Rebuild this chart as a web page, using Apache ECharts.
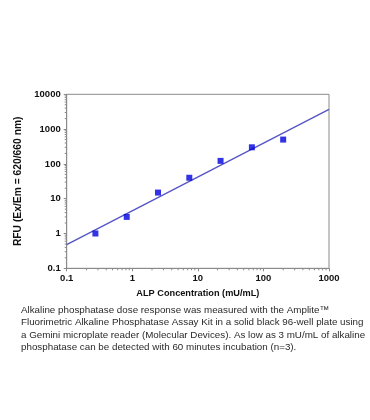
<!DOCTYPE html>
<html>
<head>
<meta charset="utf-8">
<script src="https://cdn.jsdelivr.net/npm/echarts@6/dist/echarts.min.js"></script>
<style>html,body{margin:0;padding:0;background:#fff}#c{width:370px;height:420px}</style>
</head>
<body>
<div id="c"></div>
<script>
var concentrations = [0.274, 0.823, 2.47, 7.41, 22.2, 66.7, 200];
var rfu = [1.0, 3.0, 15, 40, 122, 300, 500];
var fitX = [0.1, 1000];
var fitY = [0.48, 3700];
var xTickLabels = ['0.1', '1', '10', '100', '1000'];
var yTickLabels = ['0.1', '1', '10', '100', '1000', '10000'];
var xDecades = [0.1, 1, 10, 100];
var yDecades = [0.1, 1, 10, 100, 1000];
var captionLines = [
  'Alkaline phosphatase dose response was measured with the Amplite\u2122',
  'Fluorimetric Alkaline Phosphatase Assay Kit in a solid black 96-well plate using',
  'a Gemini microplate reader (Molecular Devices). As low as 3 mU/mL of alkaline',
  'phosphatase can be detected with 60 minutes incubation (n=3).'
];

var minorX = [], minorY = [];
xDecades.forEach(function (d) { for (var k = 2; k <= 9; k++) minorX.push(d * k); });
yDecades.forEach(function (d) { for (var k = 2; k <= 9; k++) minorY.push(d * k); });

var chart = echarts.init(document.getElementById('c'));
var axisColor = '#8a8a8a';
var ff = '"Liberation Sans", Arial, sans-serif';

var graphics = captionLines.map(function (t, i) {
  return {
    type: 'text', left: 21, top: 305 + i * 12.4,
    style: { text: t, fill: '#2a2a2a', font: '9.8px ' + ff }
  };
});

chart.setOption({
  animation: false,
  backgroundColor: '#fff',
  grid: { left: 66.7, right: 41, top: 94.3, bottom: 151.7, show: true, borderColor: axisColor, borderWidth: 1 },
  xAxis: {
    type: 'log', logBase: 10, min: 0.1, max: 1000,
    name: 'ALP Concentration (mU/mL)', nameLocation: 'middle', nameGap: 21,
    nameTextStyle: { color: '#111', fontFamily: ff, fontWeight: 'bold', fontSize: 9.2 },
    axisLine: { show: true, lineStyle: { color: axisColor } },
    axisTick: { show: true, length: 3, lineStyle: { color: axisColor } },
    axisLabel: { margin: 5, fontFamily: ff, fontWeight: 'bold', fontSize: 9.5, color: '#111',
      formatter: function (v) { var i = Math.round(Math.log10(v) + 1); return xTickLabels[i] || ''; } },
    splitLine: { show: false }
  },
  yAxis: {
    type: 'log', logBase: 10, min: 0.1, max: 10000,
    name: 'RFU (Ex/Em = 620/660 nm)', nameLocation: 'middle', nameGap: 39, nameRotate: 90,
    nameTextStyle: { color: '#111', fontFamily: ff, fontWeight: 'bold', fontSize: 10.3 },
    axisLine: { show: true, lineStyle: { color: axisColor } },
    axisTick: { show: true, length: 3, lineStyle: { color: axisColor } },
    axisLabel: { margin: 6, fontFamily: ff, fontWeight: 'bold', fontSize: 9.5, color: '#111',
      formatter: function (v) { var i = Math.round(Math.log10(v) + 1); return yTickLabels[i] || ''; } },
    splitLine: { show: false }
  },
  graphic: graphics,
  series: [
    {
      type: 'line', data: fitX.map(function (x, i) { return [x, fitY[i]]; }),
      showSymbol: false, symbol: 'none', lineStyle: { color: '#5454c4', width: 1.3 }, z: 2
    },
    {
      type: 'scatter', data: concentrations.map(function (x, i) { return [x, rfu[i]]; }),
      symbol: 'rect', symbolSize: 6, itemStyle: { color: '#0000e0' }, z: 3
    },
    {
      type: 'custom', silent: true, z: 1,
      data: minorX.map(function (v) { return [v, 0.1]; }),
      renderItem: function (params, api) {
        var p = api.coord([api.value(0), api.value(1)]);
        return { type: 'line', shape: { x1: p[0], y1: p[1], x2: p[0], y2: p[1] + 2 }, style: { stroke: axisColor, lineWidth: 1 } };
      }
    },
    {
      type: 'custom', silent: true, z: 1,
      data: minorY.map(function (v) { return [0.1, v]; }),
      renderItem: function (params, api) {
        var p = api.coord([api.value(0), api.value(1)]);
        return { type: 'line', shape: { x1: p[0], y1: p[1], x2: p[0] - 2, y2: p[1] }, style: { stroke: axisColor, lineWidth: 1 } };
      }
    }
  ]
});
</script>
</body>
</html>
